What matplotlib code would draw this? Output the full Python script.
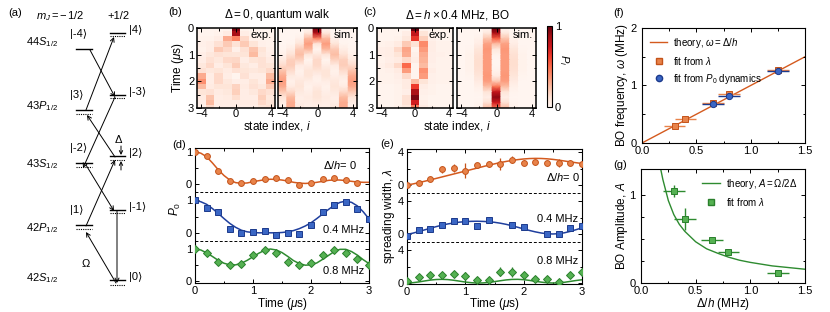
import numpy as np
import matplotlib.pyplot as plt
from matplotlib.ticker import MultipleLocator, FixedLocator
from matplotlib.lines import Line2D

plt.rcParams['font.family'] = ['Liberation Sans', 'DejaVu Sans']
plt.rcParams['mathtext.fontset'] = 'custom'
plt.rcParams['mathtext.rm'] = 'Liberation Sans'
plt.rcParams['mathtext.it'] = 'Liberation Sans:italic'
plt.rcParams['mathtext.bf'] = 'Liberation Sans:bold'
plt.rcParams['font.size'] = 8
plt.rcParams['axes.linewidth'] = 0.8

# ---------------- data ----------------
site = np.arange(-4, 5)
t_map = np.linspace(0, 3, 16)

# (b) delta = 0, measured populations (rows = time, cols = site -4..4)
pop_walk_exp = [
    [0.01, 0.01, 0.01, 0.02, 0.95, 0.02, 0.01, 0.01, 0.01],
    [0.01, 0.01, 0.02, 0.06, 0.86, 0.05, 0.02, 0.01, 0.01],
    [0.02, 0.02, 0.05, 0.30, 0.42, 0.15, 0.03, 0.02, 0.02],
    [0.03, 0.05, 0.12, 0.20, 0.11, 0.20, 0.10, 0.03, 0.02],
    [0.02, 0.05, 0.20, 0.15, 0.03, 0.12, 0.22, 0.10, 0.03],
    [0.04, 0.08, 0.12, 0.10, 0.09, 0.10, 0.25, 0.08, 0.04],
    [0.05, 0.12, 0.08, 0.15, 0.16, 0.05, 0.10, 0.12, 0.06],
    [0.08, 0.15, 0.05, 0.10, 0.19, 0.08, 0.05, 0.12, 0.10],
    [0.12, 0.08, 0.10, 0.06, 0.12, 0.10, 0.08, 0.10, 0.15],
    [0.30, 0.05, 0.15, 0.05, 0.01, 0.12, 0.05, 0.05, 0.25],
    [0.38, 0.05, 0.15, 0.08, 0.04, 0.05, 0.10, 0.05, 0.30],
    [0.25, 0.06, 0.10, 0.10, 0.17, 0.06, 0.12, 0.08, 0.20],
    [0.10, 0.12, 0.06, 0.08, 0.18, 0.05, 0.08, 0.15, 0.12],
    [0.06, 0.22, 0.05, 0.06, 0.13, 0.05, 0.05, 0.18, 0.08],
    [0.04, 0.25, 0.05, 0.05, 0.05, 0.06, 0.06, 0.15, 0.10],
    [0.03, 0.15, 0.05, 0.04, 0.05, 0.05, 0.05, 0.10, 0.12],
]
pop_walk_sim = [
    [0.00, 0.00, 0.00, 0.00, 1.00, 0.00, 0.00, 0.00, 0.00],
    [0.00, 0.00, 0.00, 0.09, 0.82, 0.09, 0.00, 0.00, 0.00],
    [0.00, 0.00, 0.03, 0.26, 0.41, 0.26, 0.03, 0.00, 0.00],
    [0.00, 0.01, 0.10, 0.34, 0.09, 0.34, 0.10, 0.01, 0.00],
    [0.01, 0.05, 0.20, 0.26, 0.01, 0.26, 0.20, 0.05, 0.01],
    [0.03, 0.11, 0.24, 0.09, 0.08, 0.09, 0.24, 0.11, 0.03],
    [0.07, 0.18, 0.17, 0.01, 0.15, 0.01, 0.17, 0.18, 0.07],
    [0.14, 0.19, 0.06, 0.05, 0.15, 0.05, 0.06, 0.19, 0.14],
    [0.22, 0.14, 0.02, 0.10, 0.10, 0.10, 0.02, 0.14, 0.22],
    [0.30, 0.07, 0.04, 0.10, 0.04, 0.10, 0.04, 0.07, 0.30],
    [0.34, 0.03, 0.08, 0.05, 0.02, 0.05, 0.08, 0.03, 0.34],
    [0.30, 0.06, 0.10, 0.02, 0.06, 0.02, 0.10, 0.06, 0.30],
    [0.20, 0.15, 0.07, 0.04, 0.10, 0.04, 0.07, 0.15, 0.20],
    [0.10, 0.25, 0.04, 0.06, 0.10, 0.06, 0.04, 0.25, 0.10],
    [0.05, 0.30, 0.05, 0.05, 0.06, 0.05, 0.05, 0.30, 0.05],
    [0.04, 0.30, 0.08, 0.04, 0.04, 0.04, 0.08, 0.30, 0.04],
]
# (c) delta = h x 0.4 MHz
pop_bo_exp = [
    [0.01, 0.01, 0.01, 0.01, 1.00, 0.02, 0.01, 0.01, 0.01],
    [0.01, 0.01, 0.01, 0.05, 0.78, 0.10, 0.02, 0.01, 0.01],
    [0.01, 0.01, 0.02, 0.08, 0.65, 0.18, 0.03, 0.01, 0.01],
    [0.02, 0.03, 0.06, 0.20, 0.11, 0.40, 0.05, 0.02, 0.02],
    [0.04, 0.05, 0.15, 0.32, 0.01, 0.35, 0.05, 0.02, 0.02],
    [0.04, 0.05, 0.10, 0.30, 0.03, 0.30, 0.04, 0.03, 0.02],
    [0.02, 0.04, 0.06, 0.15, 0.05, 0.28, 0.04, 0.02, 0.02],
    [0.03, 0.06, 0.15, 0.50, 0.01, 0.25, 0.03, 0.02, 0.02],
    [0.02, 0.03, 0.06, 0.35, 0.01, 0.38, 0.05, 0.02, 0.02],
    [0.02, 0.02, 0.04, 0.15, 0.01, 0.35, 0.03, 0.02, 0.02],
    [0.02, 0.02, 0.03, 0.06, 0.24, 0.10, 0.03, 0.02, 0.02],
    [0.01, 0.01, 0.02, 0.06, 0.63, 0.05, 0.02, 0.01, 0.01],
    [0.01, 0.01, 0.02, 0.04, 0.85, 0.03, 0.02, 0.01, 0.01],
    [0.01, 0.01, 0.02, 0.12, 0.96, 0.02, 0.01, 0.01, 0.01],
    [0.01, 0.01, 0.02, 0.12, 0.73, 0.04, 0.01, 0.01, 0.01],
    [0.01, 0.01, 0.03, 0.08, 0.44, 0.06, 0.02, 0.01, 0.01],
]
pop_bo_sim = [
    [0.00, 0.00, 0.00, 0.00, 1.00, 0.00, 0.00, 0.00, 0.00],
    [0.00, 0.00, 0.00, 0.08, 0.84, 0.08, 0.00, 0.00, 0.00],
    [0.00, 0.00, 0.02, 0.22, 0.52, 0.22, 0.02, 0.00, 0.00],
    [0.00, 0.00, 0.05, 0.33, 0.24, 0.33, 0.05, 0.00, 0.00],
    [0.00, 0.01, 0.09, 0.36, 0.08, 0.36, 0.09, 0.01, 0.00],
    [0.00, 0.02, 0.12, 0.35, 0.02, 0.35, 0.12, 0.02, 0.00],
    [0.00, 0.02, 0.13, 0.35, 0.00, 0.35, 0.13, 0.02, 0.00],
    [0.00, 0.02, 0.13, 0.35, 0.00, 0.35, 0.13, 0.02, 0.00],
    [0.00, 0.02, 0.12, 0.35, 0.02, 0.35, 0.12, 0.02, 0.00],
    [0.00, 0.01, 0.09, 0.36, 0.06, 0.36, 0.09, 0.01, 0.00],
    [0.00, 0.00, 0.06, 0.34, 0.20, 0.34, 0.06, 0.00, 0.00],
    [0.00, 0.00, 0.03, 0.24, 0.46, 0.24, 0.03, 0.00, 0.00],
    [0.00, 0.00, 0.01, 0.10, 0.78, 0.10, 0.01, 0.00, 0.00],
    [0.00, 0.00, 0.00, 0.04, 0.92, 0.04, 0.00, 0.00, 0.00],
    [0.00, 0.00, 0.01, 0.12, 0.74, 0.12, 0.01, 0.00, 0.00],
    [0.00, 0.00, 0.03, 0.25, 0.44, 0.25, 0.03, 0.00, 0.00],
]

# (d) P0 vs time
t15 = [0, 0.2, 0.4, 0.6, 0.8, 1.0, 1.2, 1.4, 1.6, 1.8, 2.0, 2.2, 2.4, 2.6, 2.8]
t16 = [0, 0.2, 0.4, 0.6, 0.8, 1.0, 1.2, 1.4, 1.6, 1.8, 2.0, 2.2, 2.4, 2.6, 2.8, 3.0]
p0_walk = [1.0, 0.86, 0.42, 0.11, 0.03, 0.09, 0.16, 0.19, 0.12, -0.01, 0.04, 0.17, 0.18, 0.13, 0.05]
p0_walk_err = [0.02, 0.03, 0.04, 0.03, 0.03, 0.03, 0.04, 0.08, 0.03, 0.03, 0.03, 0.03, 0.07, 0.05, 0.03]
p0_bo04 = [1.0, 0.78, 0.65, 0.11, 0.0, 0.03, 0.05, -0.07, -0.02, -0.03, 0.24, 0.63, 0.85, 0.96, 0.73, 0.44]
p0_bo08 = [1.0, 0.87, 0.60, 0.51, 0.53, 0.82, 0.97, 0.88, 0.59, 0.50, 0.56, 0.82, 0.97, 0.89, 0.69, 0.51]

t_fit = np.linspace(0, 3, 31)
p0_walk_fit = [1.0, 0.96, 0.85, 0.66, 0.45, 0.27, 0.13, 0.05, 0.03, 0.04, 0.08, 0.11, 0.14, 0.155, 0.15, 0.13,
               0.10, 0.06, 0.035, 0.025, 0.035, 0.06, 0.09, 0.12, 0.135, 0.13, 0.115, 0.09, 0.07, 0.06, 0.06]
p0_bo04_fit = [1.0, 0.96, 0.88, 0.75, 0.60, 0.44, 0.29, 0.17, 0.08, 0.03, 0.01, 0.0, 0.0, 0.0, 0.0, 0.01,
               0.03, 0.07, 0.13, 0.21, 0.31, 0.44, 0.58, 0.72, 0.85, 0.94, 0.98, 0.94, 0.83, 0.65, 0.43]
p0_bo08_fit = [1.0, 0.97, 0.88, 0.77, 0.65, 0.56, 0.51, 0.51, 0.56, 0.65, 0.76, 0.87, 0.96, 1.0, 0.97, 0.89,
               0.77, 0.64, 0.55, 0.50, 0.51, 0.57, 0.68, 0.80, 0.92, 0.99, 0.99, 0.92, 0.81, 0.67, 0.55]

# (e) spreading width vs time
lam_walk = [0.0, 0.3, 0.7, 1.9, 2.1, 1.75, 2.4, 2.55, 2.55, 3.1, 2.7, 2.75, 2.7, 2.7, 2.7, 2.55]
lam_walk_err = [0.1, 0.15, 0.15, 0.4, 0.5, 0.9, 0.3, 0.3, 0.7, 0.4, 0.3, 0.25, 0.25, 0.5, 0.3, 0.3]
t_lam04 = [0, 0.2, 0.4, 0.6, 0.8, 1.0, 1.2, 1.4, 1.8, 2.0, 2.4, 2.6, 2.8, 3.0]
lam_bo04 = [-0.2, 0.5, 0.55, 1.15, 1.55, 1.65, 1.0, 1.7, 1.05, 0.85, 0.0, 0.0, 0.7, 1.0]
lam_bo04_err = [0.15, 0.2, 0.15, 0.3, 0.35, 0.3, 0.25, 0.4, 0.3, 0.3, 0.2, 0.2, 0.3, 0.3]
lam_bo08 = [0.2, 0.7, 1.0, 1.0, 1.1, 0.9, 0.4, 0.4, 1.4, 1.35, 0.95, 0.5, 0.45, 0.1, 1.0, 1.3]
lam_bo08_err = [0.1, 0.3, 0.25, 0.35, 0.4, 0.5, 0.25, 0.2, 0.5, 0.6, 0.3, 0.25, 0.2, 0.1, 0.4, 0.4]
lam_walk_fit = [0.0, 0.12, 0.28, 0.45, 0.62, 0.8, 0.98, 1.16, 1.34, 1.52, 1.7, 1.88, 2.06, 2.24, 2.42, 2.58,
                2.74, 2.88, 3.0, 3.1, 3.18, 3.23, 3.25, 3.24, 3.2, 3.13, 3.04, 2.93, 2.82, 2.72, 2.62]
lam_bo04_fit = [-0.05, 0.1, 0.3, 0.5, 0.7, 0.9, 1.08, 1.23, 1.35, 1.45, 1.51, 1.55, 1.56, 1.54, 1.5, 1.43,
                1.32, 1.18, 1.01, 0.82, 0.62, 0.43, 0.26, 0.12, 0.03, 0.0, 0.04, 0.15, 0.32, 0.53, 0.75]
lam_bo08_fit = [0.0, 0.04, 0.13, 0.25, 0.36, 0.43, 0.45, 0.42, 0.34, 0.23, 0.12, 0.04, 0.0, 0.01, 0.07, 0.17,
                0.28, 0.38, 0.44, 0.45, 0.41, 0.32, 0.21, 0.11, 0.03, 0.0, 0.02, 0.09, 0.2, 0.31, 0.4]

# (f) BO frequency vs detuning
det_lam = [0.3, 0.4, 0.65, 0.8, 1.25]
omega_lam = [0.29, 0.41, 0.69, 0.85, 1.27]
det_p0 = [0.65, 0.8, 1.25]
omega_p0 = [0.67, 0.82, 1.26]
det_err = 0.1
theory_det = [0.0, 1.5]
theory_omega = [0.0, 1.5]

# (g) BO amplitude vs detuning
amp_lam = [1.05, 0.73, 0.49, 0.35, 0.11]
amp_err = [0.07, 0.12, 0.03, 0.03, 0.02]
amp_theory_det = [0.18, 0.2, 0.25, 0.3, 0.35, 0.4, 0.5, 0.6, 0.7, 0.8, 0.9, 1.0, 1.2, 1.5]
amp_theory = [1.30, 1.18, 0.94, 0.78, 0.67, 0.59, 0.47, 0.39, 0.34, 0.295, 0.26, 0.235, 0.195, 0.157]

# ---------------- styles ----------------
ORANGE = dict(line='#d45a1e', face='#e8834a', edge='#c4531a')
BLUE = dict(line='#1f3f9e', face='#3a66c4', edge='#1c3a8c')
GREEN = dict(line='#2e8b30', face='#55b152', edge='#2a7f2c')

W, H = 830, 312
fig = plt.figure(figsize=(8.3, 3.12), dpi=100)


def rect(x0, y0, x1, y1):
    return [x0 / W, 1 - y1 / H, (x1 - x0) / W, (y1 - y0) / H]


def ftext(x, y, s, **kw):
    fig.text(x / W, 1 - y / H, s, **kw)


def style(ax):
    ax.tick_params(which='both', direction='in', top=True, right=True, width=0.7, pad=2)
    ax.tick_params(which='major', length=3)
    ax.tick_params(which='minor', length=1.8)


# ---------------- (a) level scheme ----------------
axa = fig.add_axes([0, 0, 190 / W, 1])
axa.set_xlim(0, 190)
axa.set_ylim(312, 0)
axa.axis('off')

LX = (76, 92)
RX = (110, 125)
levels = [('|-4⟩', LX, 49, None), ('|4⟩', RX, 33, 36), ('|-3⟩', RX, 95, 98),
          ('|3⟩', LX, 110, 114), ('|2⟩', RX, 156, 160), ('|-2⟩', LX, 163, 167),
          ('|-1⟩', RX, 210, 213), ('|1⟩', LX, 225, 229), ('|0⟩', RX, 280, 285)]
for lab, xs, y, yd in levels:
    axa.plot(xs, [y, y], color='k', lw=1.0)
    if yd is not None:
        axa.plot(xs, [yd, yd], color='k', lw=0.8, ls=(0, (1, 1)))
    if xs == LX:
        axa.text(70, y - 15, lab, ha='left', va='center', fontsize=8)
    else:
        axa.text(129, y - 3, lab, ha='left', va='center', fontsize=8)

for s, y in [(r'44$S_{\mathrm{1/2}}$', 42), (r'43$P_{\mathrm{1/2}}$', 106), (r'43$S_{\mathrm{1/2}}$', 164),
             (r'42$P_{\mathrm{1/2}}$', 228), (r'42$S_{\mathrm{1/2}}$', 278)]:
    axa.text(26, y, s, ha='left', va='center', fontsize=8)

axa.text(36, 16, r'$m_J = -\,1/2$', ha='left', va='center', fontsize=8)
axa.text(107, 16, '+1/2', ha='left', va='center', fontsize=8)
axa.text(8, 13, '(a)', ha='left', va='center', fontsize=8)

arrows = [((116, 283), (86, 232)), ((86, 226), (115, 160)), ((115, 157), (87, 115)), ((86, 110), (114, 37)),
          ((90, 50), (115, 97)), ((115, 97), (83, 168)), ((86, 165), (114, 211)), ((117, 211), (117, 283))]
for (x0, y0), (x1, y1) in arrows:
    axa.annotate('', xy=(x1, y1), xytext=(x0, y0),
                 arrowprops=dict(arrowstyle='->,head_length=0.35,head_width=0.18', color='k', lw=0.7,
                                 shrinkA=0, shrinkB=0))
axa.annotate('', xy=(121, 155), xytext=(121, 146),
             arrowprops=dict(arrowstyle='->,head_length=0.3,head_width=0.15', color='k', lw=0.7, shrinkA=0, shrinkB=0))
axa.annotate('', xy=(121, 161), xytext=(121, 170),
             arrowprops=dict(arrowstyle='->,head_length=0.3,head_width=0.15', color='k', lw=0.7, shrinkA=0, shrinkB=0))
axa.text(119, 139, r'$\Delta$', ha='center', va='center', fontsize=8)
axa.text(86, 263, r'$\Omega$', ha='center', va='center', fontsize=8)

# ---------------- (b), (c) heatmaps ----------------
cmap = plt.get_cmap('Reds')
x_edges = np.arange(-4.5, 5.0, 1.0)
t_edges = np.concatenate([t_map - 0.1, [t_map[-1] + 0.1]])
x_gour = np.ravel([[s - 0.5, s + 0.5] for s in site])


def heat(box, data, kind, ylabels):
    ax = fig.add_axes(rect(*box))
    arr = np.array(data)
    if kind == 'exp':
        m = ax.pcolormesh(x_edges, t_edges, arr, cmap=cmap, vmin=0, vmax=1)
    else:
        m = ax.pcolormesh(x_gour, t_map, np.repeat(arr, 2, axis=1), shading='gouraud',
                          cmap=cmap, vmin=0, vmax=1)
    ax.set_xlim(-4.5, 4.5)
    ax.set_ylim(3, 0)
    ax.xaxis.set_major_locator(FixedLocator([-4, 0, 4]))
    ax.xaxis.set_minor_locator(FixedLocator([-2, 2]))
    ax.yaxis.set_major_locator(MultipleLocator(1))
    ax.yaxis.set_minor_locator(MultipleLocator(0.5))
    style(ax)
    ax.tick_params(axis='x', pad=1)
    if not ylabels:
        ax.set_yticklabels([])
    for sp in ax.spines.values():
        sp.set_linewidth(1.1)
    ax.text(0.96, 0.97, kind + '.', transform=ax.transAxes, ha='right', va='top', fontsize=8)
    return m


heat((197, 28, 275, 108), pop_walk_exp, 'exp', True)
heat((278, 28, 357, 108), pop_walk_sim, 'sim', False)
heat((377, 28, 453, 108), pop_bo_exp, 'exp', True)
mesh = heat((457, 28, 536, 108), pop_bo_sim, 'sim', False)

cax = fig.add_axes(rect(547, 26, 552, 107))
cb = fig.colorbar(mesh, cax=cax, ticks=[0, 1])
cb.outline.set_linewidth(0.8)
cax.tick_params(length=0, pad=2, labelsize=8)
ftext(564, 60, r'$P_i$', ha='center', va='center', rotation=-90, fontsize=8)

ftext(277, 15, r'$\Delta = 0$, quantum walk', ha='center', va='center', fontsize=8.5)
ftext(457, 15, r'$\Delta = h \times 0.4$ MHz, BO', ha='center', va='center', fontsize=8.5)
ftext(168, 12, '(b)', ha='left', va='center', fontsize=8)
ftext(363, 12, '(c)', ha='left', va='center', fontsize=8)
ftext(277, 126, r'state index, $i$', ha='center', va='center', fontsize=8.5)
ftext(457, 126, r'state index, $i$', ha='center', va='center', fontsize=8.5)
ftext(178, 68, r'Time ($\mu$s)', ha='center', va='center', rotation=90, fontsize=8.5)

# ---------------- (d) P0 ----------------
OFF_D = [3.0, 1.5, 0.0]
axd = fig.add_axes(rect(195, 148, 369, 283))
sets_d = [(t15, p0_walk, p0_walk_err, p0_walk_fit, ORANGE, 'o', 4.2),
          (t16, p0_bo04, [0.03] * 16, p0_bo04_fit, BLUE, 's', 4.0),
          (t16, p0_bo08, [0.03] * 16, p0_bo08_fit, GREEN, 'D', 3.8)]
for (t, y, e, fit, c, mk, ms), off in zip(sets_d, OFF_D):
    axd.plot(t_fit, np.array(fit) + off, color=c['line'], lw=1.1, zorder=2)
    axd.errorbar(t, np.array(y) + off, yerr=e, fmt=mk, ms=ms, mfc=c['face'], mec=c['edge'], mew=0.7,
                 ecolor=c['edge'], elinewidth=0.9, capsize=0, zorder=3)
for yl in (1.25, 2.75):
    axd.axhline(yl, color='k', lw=0.7, ls=(0, (3, 2)))
axd.set_xlim(0, 3)
axd.set_ylim(-0.05, 4.12)
axd.xaxis.set_major_locator(MultipleLocator(1))
axd.xaxis.set_minor_locator(MultipleLocator(0.5))
axd.yaxis.set_major_locator(FixedLocator([0, 1, 1.5, 2.5, 3, 4]))
axd.yaxis.set_minor_locator(FixedLocator([0.5, 2.0, 3.5]))
axd.set_yticklabels(['0', '1', '0', '1', '0', '1'])
style(axd)
ftext(323, 165, r'$\Delta/h$= 0', ha='left', va='center', fontsize=8)
ftext(323, 230, '0.4 MHz', ha='left', va='center', fontsize=8)
ftext(323, 271, '0.8 MHz', ha='left', va='center', fontsize=8)
ftext(282, 304, r'Time ($\mu$s)', ha='center', va='center', fontsize=8.5)
ftext(175, 209, r'$P_0$', ha='center', va='center', rotation=90, fontsize=8.5)
ftext(172, 145, '(d)', ha='left', va='center', fontsize=8)

# ---------------- (e) spreading width ----------------
OFF_E = [12.0, 6.0, 0.0]
axe = fig.add_axes(rect(407, 149, 582, 284))
sets_e = [(t16, lam_walk, lam_walk_err, lam_walk_fit, ORANGE, 'o', 4.2),
          (t_lam04, lam_bo04, lam_bo04_err, lam_bo04_fit, BLUE, 's', 4.0),
          (t16, lam_bo08, lam_bo08_err, lam_bo08_fit, GREEN, 'D', 3.8)]
for (t, y, e, fit, c, mk, ms), off in zip(sets_e, OFF_E):
    axe.plot(t_fit, np.array(fit) + off, color=c['line'], lw=1.1, zorder=2)
    axe.errorbar(t, np.array(y) + off, yerr=e, fmt=mk, ms=ms, mfc=c['face'], mec=c['edge'], mew=0.7,
                 ecolor=c['edge'], elinewidth=0.9, capsize=0, zorder=3)
for yl in (5.0, 11.0):
    axe.axhline(yl, color='k', lw=0.7, ls=(0, (3, 2)))
axe.set_xlim(0, 3)
axe.set_ylim(-0.12, 16.4)
axe.xaxis.set_major_locator(MultipleLocator(1))
axe.xaxis.set_minor_locator(MultipleLocator(0.5))
axe.yaxis.set_major_locator(FixedLocator([0, 4, 6, 10, 12, 16]))
axe.yaxis.set_minor_locator(FixedLocator([2, 8, 14]))
axe.set_yticklabels(['0', '4', '0', '4', '0', '4'])
style(axe)
ftext(546, 177, r'$\Delta/h$= 0', ha='left', va='center', fontsize=8)
ftext(537, 219, '0.4 MHz', ha='left', va='center', fontsize=8)
ftext(537, 261, '0.8 MHz', ha='left', va='center', fontsize=8)
ftext(494, 304, r'Time ($\mu$s)', ha='center', va='center', fontsize=8.5)
ftext(389, 216, r'spreading width, $\lambda$', ha='center', va='center', rotation=90, fontsize=8.5)
ftext(380, 144, '(e)', ha='left', va='center', fontsize=8)

# ---------------- (f) BO frequency ----------------
axf = fig.add_axes(rect(642, 28, 805, 143))
axf.plot(theory_det, theory_omega, color=ORANGE['line'], lw=1.0, zorder=1)
axf.errorbar(det_lam, omega_lam, xerr=det_err, fmt='s', ms=4.5, mfc=ORANGE['face'], mec=ORANGE['edge'],
             mew=0.7, ecolor=ORANGE['face'], elinewidth=1.0, capsize=0, zorder=2)
axf.errorbar(det_p0, omega_p0, xerr=det_err, fmt='o', ms=4.5, mfc=BLUE['face'], mec=BLUE['edge'],
             mew=0.7, ecolor=BLUE['edge'], elinewidth=1.0, capsize=0, zorder=3)
axf.set_xlim(0, 1.5)
axf.set_ylim(0, 2)
axf.xaxis.set_major_locator(FixedLocator([0, 0.5, 1.0, 1.5]))
axf.xaxis.set_minor_locator(MultipleLocator(0.25))
axf.set_xticklabels(['0.0', '0.5', '1.0', '1.5'])
axf.yaxis.set_major_locator(MultipleLocator(1))
axf.yaxis.set_minor_locator(MultipleLocator(0.5))
style(axf)
axf.tick_params(axis='y', pad=4)
hf = [Line2D([], [], color=ORANGE['line'], lw=1.0),
      Line2D([], [], ls='', marker='s', ms=4.5, mfc=ORANGE['face'], mec=ORANGE['edge']),
      Line2D([], [], ls='', marker='o', ms=4.5, mfc=BLUE['face'], mec=BLUE['edge'])]
axf.legend(hf, [r'theory, $\omega = \Delta/h$', r'fit from $\lambda$', r'fit from $P_0$ dynamics'],
           loc='upper left', frameon=False, fontsize=7, handlelength=1.8, labelspacing=0.5,
           borderaxespad=0.4, handletextpad=0.6)
ftext(622, 85, r'BO frequency, $\omega$ (MHz)', ha='center', va='center', rotation=90, fontsize=8.5)
ftext(613, 13, '(f)', ha='left', va='center', fontsize=8)

# ---------------- (g) BO amplitude ----------------
axg = fig.add_axes(rect(641, 169, 805, 283))
axg.plot(amp_theory_det, amp_theory, color=GREEN['line'], lw=1.0, zorder=1)
axg.errorbar(det_lam, amp_lam, xerr=det_err, yerr=amp_err, fmt='s', ms=4.5, mfc=GREEN['face'],
             mec=GREEN['edge'], mew=0.7, ecolor=GREEN['line'], elinewidth=1.0, capsize=0, zorder=2)
axg.set_xlim(0, 1.5)
axg.set_ylim(0, 1.3)
axg.xaxis.set_major_locator(FixedLocator([0, 0.5, 1.0, 1.5]))
axg.xaxis.set_minor_locator(MultipleLocator(0.25))
axg.set_xticklabels(['0.0', '0.5', '1.0', '1.5'])
axg.yaxis.set_major_locator(FixedLocator([0, 1]))
axg.yaxis.set_minor_locator(FixedLocator([0.25, 0.5, 0.75]))
style(axg)
axg.tick_params(axis='y', pad=4)
hg = [Line2D([], [], color=GREEN['line'], lw=1.0),
      Line2D([], [], ls='', marker='s', ms=4.5, mfc=GREEN['face'], mec=GREEN['edge'])]
axg.legend(hg, [r'theory, $A = \Omega/2\Delta$', r'fit from $\lambda$'], loc='upper right', frameon=False,
           fontsize=7, handlelength=1.8, labelspacing=0.5, borderaxespad=0.4, handletextpad=0.6)
ftext(723, 304, r'$\Delta/h$ (MHz)', ha='center', va='center', fontsize=8.5)
ftext(622, 226, r'BO Amplitude, $A$', ha='center', va='center', rotation=90, fontsize=8.5)
ftext(613, 165, '(g)', ha='left', va='center', fontsize=8)

fig.savefig('out.png', dpi=100)
